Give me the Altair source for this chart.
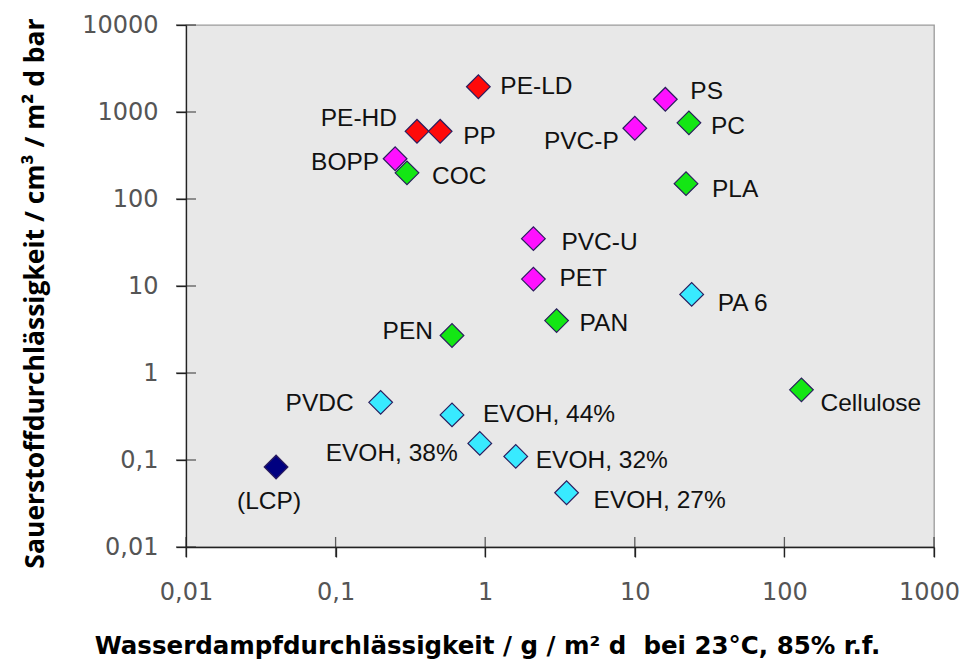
import altair as alt
import pandas as pd

# ---- data ----
names = ["PE-LD", "PE-HD", "PP", "BOPP", "COC", "PS", "PVC-P", "PC", "PLA",
         "PVC-U", "PET", "PAN", "PA 6", "PEN", "Cellulose", "PVDC",
         "EVOH, 44%", "EVOH, 38%", "EVOH, 32%", "EVOH, 27%", "(LCP)"]
wvtr = [0.9, 0.35, 0.5, 0.25, 0.3, 16, 10, 23, 22,
        2.1, 2.1, 3.0, 24, 0.6, 130, 0.2,
        0.6, 0.92, 1.6, 3.5, 0.04]
otr = [1950, 600, 600, 290, 200, 1400, 650, 750, 150,
       35, 12, 4.0, 8.0, 2.7, 0.64, 0.46,
       0.33, 0.155, 0.11, 0.042, 0.083]
group = ["r", "r", "r", "m", "g", "m", "m", "g", "g",
         "m", "m", "g", "c", "g", "g", "c",
         "c", "c", "c", "c", "n"]

x_ticks = [0.01, 0.1, 1, 10, 100, 1000]
y_ticks = [0.01, 0.1, 1, 10, 100, 1000, 10000]

x_title = "Wasserdampfdurchlässigkeit / g / m² d\u00a0 bei 23°C, 85% r.f."
y_title = "Sauerstoffdurchlässigkeit / cm³ / m² d bar"

# ---- styling / layout ----
W, H = 748, 522
group_colors = {"r": "#ff0a0a", "m": "#ff10ff", "g": "#14e614",
                "c": "#38eaff", "n": "#000080"}
# label placement (dx, dy, align) relative to each point, in pixels
label_pos = {
    "PE-LD": (22, 0, "left"), "PE-HD": (-20, -12, "right"),
    "PP": (23, 6, "left"), "BOPP": (-16, 4, "right"),
    "COC": (25, 4, "left"), "PS": (25, -7, "left"),
    "PVC-P": (-16, 14, "right"), "PC": (22, 4, "left"),
    "PLA": (26, 6, "left"), "PVC-U": (28, 4, "left"),
    "PET": (26, 0, "left"), "PAN": (23, 3, "left"),
    "PA 6": (26, 10, "left"), "PEN": (-19, -3, "right"),
    "Cellulose": (19, 14, "left"), "PVDC": (-27, 2, "right"),
    "EVOH, 44%": (31, 0, "left"), "EVOH, 38%": (-22, 11, "right"),
    "EVOH, 32%": (20, 5, "left"), "EVOH, 27%": (27, 8, "left"),
    "(LCP)": (-7, 35, "center"),
}

df = pd.DataFrame({"name": names, "wvtr": wvtr, "otr": otr, "group": group})
xt = pd.DataFrame({"v": x_ticks})
yt = pd.DataFrame({"v": y_ticks})

xscale = alt.Scale(type="log", domain=[0.01, 1000], nice=False)
yscale = alt.Scale(type="log", domain=[0.01, 10000], nice=False)

label_expr = "replace(toString(datum.value), '.', ',')"

xaxis = alt.Axis(values=x_ticks, labelExpr=label_expr, grid=False,
                 tickSize=10, tickColor="#222", domainColor="#222",
                 domainWidth=1.3, tickWidth=1.3,
                 labelFont="DejaVu Sans", labelFontSize=24, labelColor="#555",
                 labelPadding=23, labelBaseline="top",
                 labelOffset={"condition": {"test": "datum.value >= 999",
                                            "value": -5}, "value": 0},
                 title=x_title, titleFont="DejaVu Sans", titleFontSize=24.5,
                 titleFontWeight="bold", titleColor="#000",
                 titleX=301, titleY=106, titleBaseline="alphabetic",
                 titleAlign="center", labelFlush=False, labelOverlap=False)
yaxis = alt.Axis(values=y_ticks, labelExpr=label_expr, grid=False,
                 tickSize=10, tickColor="#222", domainColor="#222",
                 domainWidth=1.3, tickWidth=1.3,
                 labelFont="DejaVu Sans", labelFontSize=24, labelColor="#555",
                 labelPadding=18, labelBaseline="middle",
                 title=y_title, titleFont="Open Sans", titleFontSize=26.5,
                 titleFontWeight="bold", titleColor="#000",
                 titleAngle=-90, titleX=-143, titleY=268,
                 titleBaseline="alphabetic", titleAlign="center",
                 labelFlush=False, labelOverlap=False)

points = alt.Chart(df).mark_point(
    shape="diamond", filled=True, size=560, opacity=1,
    stroke="#2b1d5e", strokeWidth=1.2
).encode(
    x=alt.X("wvtr:Q", scale=xscale, axis=xaxis),
    y=alt.Y("otr:Q", scale=yscale, axis=yaxis),
    fill=alt.Fill("group:N", legend=None,
                  scale=alt.Scale(domain=list(group_colors.keys()),
                                  range=list(group_colors.values()))),
)

# inner halves of the crossing ticks
xticks_in = alt.Chart(xt).mark_tick(orient="vertical", size=20, thickness=1.3,
                                    color="#222").encode(
    x=alt.X("v:Q", scale=xscale, axis=xaxis), y=alt.value(H))
yticks_in = alt.Chart(yt).mark_tick(orient="horizontal", size=20, thickness=1.3,
                                    color="#222").encode(
    y=alt.Y("v:Q", scale=yscale, axis=yaxis), x=alt.value(0))

labels = []
for n in names:
    dx, dy, al = label_pos[n]
    labels.append(
        alt.Chart(df).transform_filter(alt.datum.name == n).mark_text(
            dx=dx, dy=dy, align=al, baseline="middle",
            font="Liberation Sans", fontSize=24.5, color="#111"
        ).encode(
            x=alt.X("wvtr:Q", scale=xscale, axis=xaxis),
            y=alt.Y("otr:Q", scale=yscale, axis=yaxis),
            text="name:N",
        )
    )

chart = alt.layer(points, xticks_in, yticks_in, *labels).properties(
    width=W, height=H,
    background="white",
    autosize=alt.AutoSizeParams(type="none"),
    padding={"left": 178, "top": 17, "right": 26, "bottom": 113},
).configure_view(
    fill="#e8e8e8", stroke="#9a9a9a", strokeWidth=1.3
)

chart.save("out.html", embed_options={"renderer": "svg", "actions": False})
